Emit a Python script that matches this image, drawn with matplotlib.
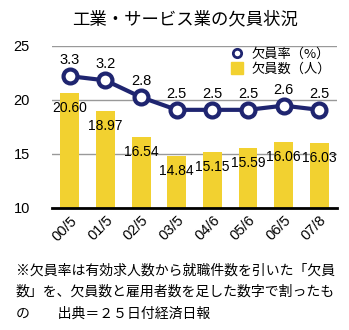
import matplotlib.pyplot as plt
from matplotlib.lines import Line2D

plt.rcParams['font.family'] = ['Noto Sans CJK JP', 'DejaVu Sans']

# データ
periods = ['00/5', '01/5', '02/5', '03/5', '04/6', '05/6', '06/5', '07/8']
vacancies = [20.60, 18.97, 16.54, 14.84, 15.15, 15.59, 16.06, 16.03]
rates = [3.3, 3.2, 2.8, 2.5, 2.5, 2.5, 2.6, 2.5]
yticks = [10, 15, 20, 25]

yellow = '#F2D130'
navy = '#1F2570'
numfont = 'Liberation Sans'

fig = plt.figure(figsize=(3.49, 3.30), dpi=100)
ax = fig.add_axes([0.149, 0.370, 0.817, 0.491])

x = list(range(len(periods)))
bars = ax.bar(x, vacancies, width=0.53, color=yellow, zorder=2)
for xi, v in zip(x, vacancies):
    ax.annotate(f'{v:.2f}', (xi, v), xytext=(0, -15), textcoords='offset pixels',
                ha='center', va='center', fontsize=10, family=numfont, zorder=5)

ax.set_ylim(10, 25)
ax.set_xlim(-0.5, 7.5)
ax.set_yticks(yticks)
ax.yaxis.grid(True, color='#999999', linewidth=1, zorder=0)
ax.set_axisbelow(True)
for s in ['left', 'right', 'top']:
    ax.spines[s].set_visible(False)
ax.spines['bottom'].set_linewidth(2)
ax.spines['bottom'].set_color('black')
ax.tick_params(axis='y', length=0, labelsize=10.5, pad=16)
ax.tick_params(axis='x', length=0, labelsize=10.5, pad=4)
ax.set_xticks(x)
ax.set_xticklabels(periods, rotation=45, ha='right', rotation_mode='anchor', family=numfont)
for lab in ax.get_yticklabels():
    lab.set_family(numfont)

ax2 = ax.twinx()
ax2.set_ylim(0.17, 4.02)
ax2.axis('off')
ax2.plot(x, rates, color=navy, linewidth=3, marker='o', markersize=10,
         markerfacecolor='white', markeredgecolor=navy, markeredgewidth=3, zorder=4)
for xi, r in zip(x, rates):
    ax2.annotate(f'{r:.1f}', (xi, r), xytext=(0, 16), textcoords='offset pixels',
                 ha='center', va='center', fontsize=10.5, family=numfont)

h1 = Line2D([], [], linestyle='none', marker='o', markersize=6,
            markerfacecolor='white', markeredgecolor=navy, markeredgewidth=2)
h2 = Line2D([], [], linestyle='none', marker='s', markersize=8, color=yellow)
ax2.legend([h1, h2], ['欠員率（%）', '欠員数（人）'], loc='upper right',
           bbox_to_anchor=(1.0, 1.03), frameon=False, fontsize=9.5,
           handlelength=1.0, handletextpad=0.6, labelspacing=0.15,
           borderaxespad=0.1)

fig.text(0.53, 0.94, '工業・サービス業の欠員状況', ha='center', va='center', fontsize=12.5)

fig.text(0.045, 0.18, '※欠員率は有効求人数から就職件数を引いた「欠員', fontsize=10, va='center')
fig.text(0.045, 0.115, '数」を、欠員数と雇用者数を足した数字で割ったも', fontsize=10, va='center')
fig.text(0.045, 0.05, 'の　　出典＝２５日付経済日報', fontsize=10, va='center')

fig.savefig('out.png', dpi=100)
